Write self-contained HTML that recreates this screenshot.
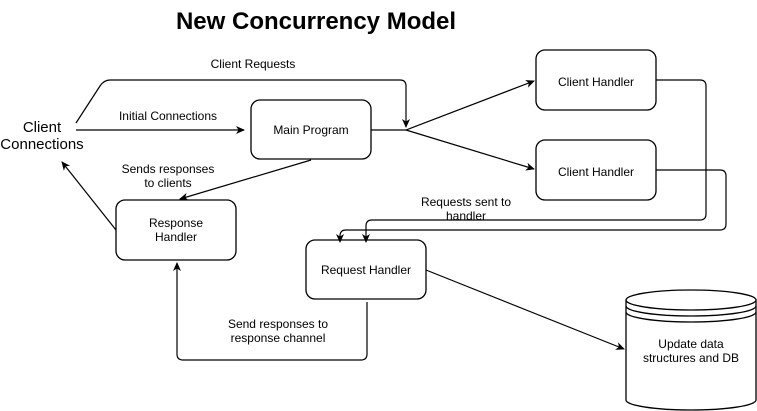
<!DOCTYPE html>
<html><head><meta charset="utf-8"><style>
html,body{margin:0;padding:0;background:#fff;}
svg{display:block;font-family:"Liberation Sans",Arial,sans-serif;}
</style></head><body>
<svg width="757" height="411" viewBox="0 0 757 411" xmlns="http://www.w3.org/2000/svg">
<defs>
<marker id="a" markerWidth="10" markerHeight="10" refX="8" refY="5" orient="auto" markerUnits="userSpaceOnUse">
<path d="M0,1 L9,5 L0,9 L2.5,5 Z" fill="#000"/>
</marker>
</defs>
<rect width="757" height="411" fill="#fff"/>
<text x="316" y="29" font-size="24" font-weight="bold" text-anchor="middle">New Concurrency Model</text>
<g fill="#fff" stroke="#000" stroke-width="1.3">
<rect x="251" y="100" width="120" height="59" rx="9"/>
<rect x="536" y="50" width="120" height="60" rx="9"/>
<rect x="536" y="140" width="120" height="60" rx="9"/>
<rect x="116" y="200" width="120" height="60" rx="9"/>
<rect x="306" y="240" width="120" height="59" rx="9"/>
<path d="M626,300 L626,400 A65,10 0 0 0 756,400 L756,300 A65,10 0 0 0 626,300 A65,10 0 0 0 756,300"/>
<path d="M626,306 A65,10 0 0 0 756,306 M626,312 A65,10 0 0 0 756,312" fill="none"/>
</g>
<g fill="none" stroke="#000" stroke-width="1.2">
<path d="M76,130 L244,130" marker-end="url(#a)"/>
<path d="M76,123 L100,86 Q104,80 110,80 L400,80 Q406,80 406,86 L406,127" marker-end="url(#a)"/>
<path d="M371,130 L406,130 L534,81" marker-end="url(#a)"/>
<path d="M406,130 L534,169" marker-end="url(#a)"/>
<path d="M311,160 L180,199" marker-end="url(#a)"/>
<path d="M116,230 L62,162" marker-end="url(#a)"/>
<path d="M656,80 L700,80 Q706,80 706,86 L706,214 Q706,220 700,220 L372,220 Q366,220 366,226 L366,242" marker-end="url(#a)"/>
<path d="M656,170 L720,170 Q726,170 726,176 L726,224 Q726,230 720,230 L346,230 Q340,230 340,236 L340,242" marker-end="url(#a)"/>
<path d="M367,302 L367,354 Q367,360 361,360 L183,360 Q177,360 177,354 L177,263" marker-end="url(#a)"/>
<path d="M426,270 L624,349" marker-end="url(#a)"/>
</g>
<g font-size="12" text-anchor="middle" fill="#000">
<text x="311" y="134">Main Program</text>
<text x="596" y="86">Client Handler</text>
<text x="596" y="176">Client Handler</text>
<text x="176" y="227">Response</text>
<text x="176" y="241">Handler</text>
<text x="366" y="274">Request Handler</text>
<text x="691" y="348">Update data</text>
<text x="691" y="362">structures and DB</text>
<text x="253" y="68">Client Requests</text>
<text x="168" y="120">Initial Connections</text>
<text x="168" y="173">Sends responses</text>
<text x="168" y="187">to clients</text>
<text x="466" y="206">Requests sent to</text>
<text x="466" y="220">handler</text>
<text x="278" y="328">Send responses to</text>
<text x="278" y="342">response channel</text>
</g>
<g font-size="15" text-anchor="middle">
<text x="42" y="132">Client</text>
<text x="42" y="149">Connections</text>
</g>
</svg>
</body></html>
